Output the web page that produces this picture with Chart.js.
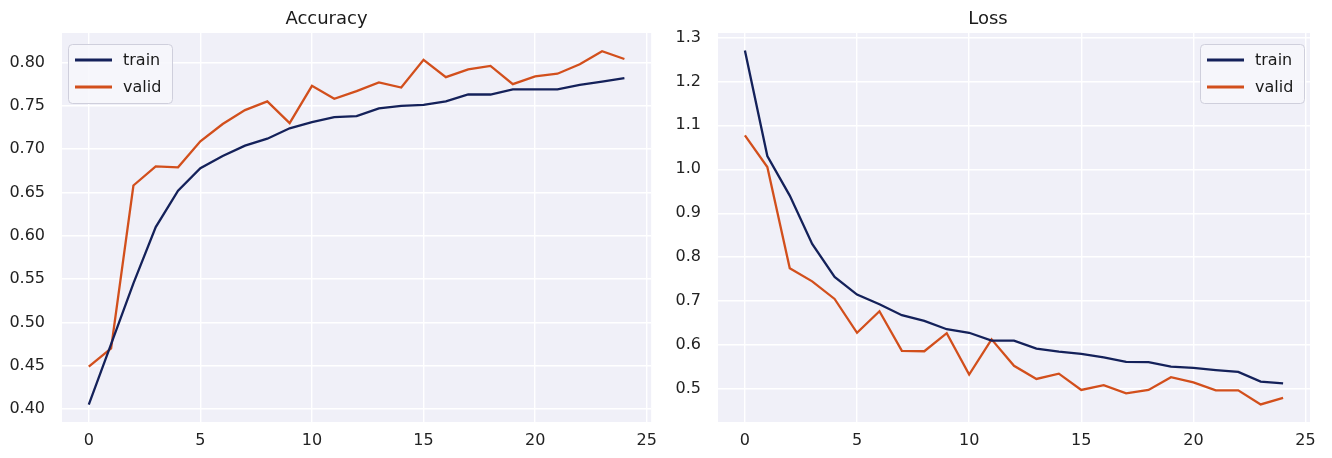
<!DOCTYPE html>
<html><head><meta charset="utf-8">
<script src="https://cdn.jsdelivr.net/npm/chart.js@4.4.0/dist/chart.umd.min.js"></script>
<style>
html,body{margin:0;padding:0;background:#fff;width:1332px;height:458px;overflow:hidden}
.box{position:absolute;top:0;width:666px;height:458px}
</style></head><body>
<div class="box" style="left:0"><canvas id="acc" width="666" height="458"></canvas></div>
<div class="box" style="left:666px"><canvas id="loss" width="666" height="458"></canvas></div>
<script>
const epochs = [0,1,2,3,4,5,6,7,8,9,10,11,12,13,14,15,16,17,18,19,20,21,22,23,24];
const accTrain = [0.405,0.475,0.545,0.610,0.652,0.678,0.692,0.704,0.712,0.724,0.731,0.737,0.738,0.747,0.750,0.751,0.755,0.763,0.763,0.769,0.769,0.769,0.774,0.778,0.782];
const accValid = [0.449,0.470,0.658,0.680,0.679,0.709,0.729,0.745,0.755,0.730,0.773,0.758,0.767,0.777,0.771,0.803,0.783,0.792,0.796,0.775,0.784,0.787,0.798,0.813,0.804];
const lossTrain = [1.270,1.030,0.940,0.830,0.755,0.715,0.693,0.668,0.655,0.636,0.628,0.610,0.610,0.592,0.585,0.580,0.572,0.562,0.561,0.551,0.548,0.543,0.539,0.517,0.513];
const lossValid = [1.077,1.005,0.775,0.745,0.705,0.628,0.677,0.587,0.586,0.627,0.533,0.613,0.553,0.523,0.535,0.498,0.509,0.490,0.498,0.527,0.515,0.497,0.497,0.465,0.480];
const xTicks = [0,5,10,15,20,25];
const accTicks = [0.40,0.45,0.50,0.55,0.60,0.65,0.70,0.75,0.80];
const lossTicks = [0.5,0.6,0.7,0.8,0.9,1.0,1.1,1.2,1.3];
const seriesNames = ['train','valid'];
const titles = ['Accuracy','Loss'];

const TRAIN_COLOR = '#14215a';
const VALID_COLOR = '#d24f1c';
const BG = '#f0f0f8';
const FONT = "'DejaVu Sans', sans-serif";

const plotBg = {
  id:'plotBg',
  beforeDraw(chart){
    const {ctx, chartArea:a} = chart;
    ctx.save(); ctx.fillStyle = BG; ctx.fillRect(a.left,a.top,a.right-a.left,a.bottom-a.top); ctx.restore();
  }
};
const legendBox = {
  id:'legendBox',
  afterDraw(chart, args, opts){
    const {ctx, chartArea:a} = chart;
    const w = 104, h = 59;
    const x = opts.side === 'left' ? a.left + 6 : a.right - 6 - w;
    const y = a.top + 11;
    ctx.save();
    ctx.beginPath();
    if (ctx.roundRect) ctx.roundRect(x+0.5,y+0.5,w,h,4); else ctx.rect(x+0.5,y+0.5,w,h);
    ctx.fillStyle = 'rgba(247,247,252,0.85)';
    ctx.fill();
    ctx.strokeStyle = '#cfcfdc';
    ctx.lineWidth = 1;
    ctx.stroke();
    chart.data.datasets.forEach((ds,i)=>{
      const ly = y + 16 + i*27;
      ctx.beginPath();
      ctx.moveTo(x+7, ly); ctx.lineTo(x+44, ly);
      ctx.strokeStyle = ds.borderColor; ctx.lineWidth = 3; ctx.stroke();
      ctx.fillStyle = '#1a1a1a';
      ctx.font = '16px ' + FONT;
      ctx.textBaseline = 'middle';
      ctx.fillText(ds.label, x+55, ly+1);
    });
    ctx.restore();
  }
};

function makeChart(id, title, train, valid, yTicks, ymin, ymax, decimals, yWidth, padRight, side){
  const pts = arr => epochs.map((e,i)=>({x:e, y:arr[i]}));
  return new Chart(document.getElementById(id), {
    type:'line',
    data:{datasets:[
      {label:seriesNames[0], data:pts(train), borderColor:TRAIN_COLOR, borderWidth:2.3, pointRadius:0, tension:0, fill:false},
      {label:seriesNames[1], data:pts(valid), borderColor:VALID_COLOR, borderWidth:2.3, pointRadius:0, tension:0, fill:false}
    ]},
    options:{
      responsive:false, animation:false, devicePixelRatio:1,
      layout:{padding:{left:0,right:padRight,top:0,bottom:0}},
      plugins:{
        legend:{display:false}, tooltip:{enabled:false},
        title:{display:true, text:title, color:'#1a1a1a', font:{family:FONT,size:18,weight:'normal'}, padding:{top:9,bottom:2.4}},
        legendBox:{side:side}
      },
      scales:{
        x:{type:'linear', min:-1.2, max:25.2,
          afterBuildTicks:s=>{s.ticks = xTicks.map(v=>({value:v}));},
          afterFit:s=>{s.height = 36;},
          grid:{color:'#ffffff', lineWidth:1.4, drawTicks:false},
          border:{display:false},
          ticks:{color:'#222222', font:{family:FONT,size:16}, padding:9, maxRotation:0, autoSkip:false, callback:v=>String(v)}
        },
        y:{type:'linear', min:ymin, max:ymax,
          afterBuildTicks:s=>{s.ticks = yTicks.map(v=>({value:v}));},
          afterFit:s=>{s.width = yWidth;},
          grid:{color:'#ffffff', lineWidth:1.4, drawTicks:false},
          border:{display:false},
          ticks:{color:'#222222', font:{family:FONT,size:16}, padding:17, autoSkip:false, callback:v=>Number(v).toFixed(decimals)}
        }
      }
    },
    plugins:[plotBg, legendBox]
  });
}
makeChart('acc', titles[0], accTrain, accValid, accTicks, 0.385, 0.834, 2, 62, 13, 'left');
makeChart('loss', titles[1], lossTrain, lossValid, lossTicks, 0.425, 1.31, 1, 52, 22, 'right');
</script>
</body></html>
